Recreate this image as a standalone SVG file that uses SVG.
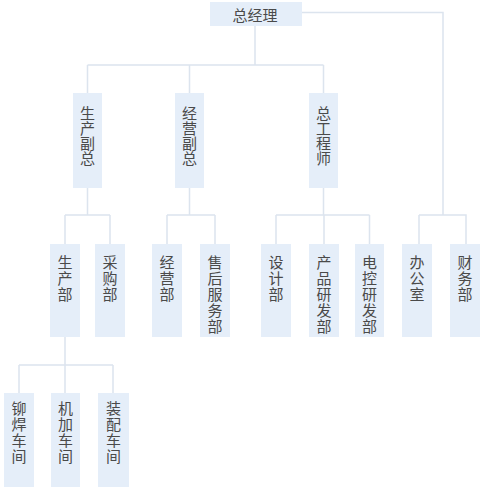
<svg xmlns="http://www.w3.org/2000/svg" width="483" height="490" viewBox="0 0 483 490">
<style>
.box{fill:#e5eef9}
.t{font-family:"Noto Sans CJK SC","Noto Sans",sans-serif;font-size:15px;fill:#4a4a4a;text-anchor:middle;dominant-baseline:central}
.v{font-family:"Noto Sans CJK SC","Noto Sans",sans-serif;font-size:15px;fill:#4a4a4a;writing-mode:vertical-rl;text-anchor:start}
.l3{letter-spacing:1px}
.c{fill:none;stroke:#dce4ee;stroke-width:1.5}
</style>
<rect width="483" height="490" fill="#ffffff"/>
<g id="connectors">
<path class="c" d="M302 12.5H443V215M419 215H466V244M419 215V244"/>
<path class="c" d="M255 26V65M87.5 65H323.5M87.5 65V93M189.5 65V93M323.5 65V93"/>
<path class="c" d="M87.5 188V215M65 215H110M65 215V244M110 215V244"/>
<path class="c" d="M189.5 188V215M167 215H215M167 215V244M215 215V244"/>
<path class="c" d="M323.5 188V215M276 215H369.5M276 215V244M324 215V244M369.5 215V244"/>
<path class="c" d="M65 337V365M19 365H113M19 365V393M65 365V393M113 365V393"/>
</g>
<g id="n-zjl"><rect class="box" x="210" y="2" width="92" height="24"/><text class="t" x="255" y="14">总经理</text></g>
<g id="n-scfz"><rect class="box" x="73" y="93" width="29" height="95"/><text class="v" x="87.5" y="105.5">生产副总</text></g>
<g id="n-jyfz"><rect class="box" x="175" y="93" width="29" height="95"/><text class="v" x="189.5" y="105.5">经营副总</text></g>
<g id="n-zgcs"><rect class="box" x="309" y="93" width="29" height="95"/><text class="v" x="323.5" y="105.5">总工程师</text></g>
<g id="n-scb"><rect class="box" x="50" y="244" width="30" height="93"/><text class="v l3" x="65" y="254.5">生产部</text></g>
<g id="n-cgb"><rect class="box" x="95" y="244" width="30" height="93"/><text class="v l3" x="110" y="254.5">采购部</text></g>
<g id="n-jyb"><rect class="box" x="152" y="244" width="30" height="93"/><text class="v l3" x="167" y="254.5">经营部</text></g>
<g id="n-shfwb"><rect class="box" x="200" y="244" width="30" height="93"/><text class="v l3" x="215" y="254.5">售后服务部</text></g>
<g id="n-sjb"><rect class="box" x="261" y="244" width="30" height="93"/><text class="v l3" x="276" y="254.5">设计部</text></g>
<g id="n-cpyfb"><rect class="box" x="309" y="244" width="30" height="93"/><text class="v l3" x="324" y="254.5">产品研发部</text></g>
<g id="n-dkyfb"><rect class="box" x="355" y="244" width="29" height="93"/><text class="v l3" x="369.5" y="254.5">电控研发部</text></g>
<g id="n-bgs"><rect class="box" x="402" y="244" width="30" height="93"/><text class="v l3" x="417" y="254.5">办公室</text></g>
<g id="n-cwb"><rect class="box" x="450" y="244" width="30" height="93"/><text class="v l3" x="465" y="254.5">财务部</text></g>
<g id="n-mhcj"><rect class="box" x="4" y="393" width="30" height="94"/><text class="v l3" x="19" y="400.5">铆焊车间</text></g>
<g id="n-jjcj"><rect class="box" x="51" y="393" width="29" height="94"/><text class="v l3" x="65.5" y="400.5">机加车间</text></g>
<g id="n-zpcj"><rect class="box" x="98" y="393" width="31" height="94"/><text class="v l3" x="113.5" y="400.5">装配车间</text></g>
</svg>
